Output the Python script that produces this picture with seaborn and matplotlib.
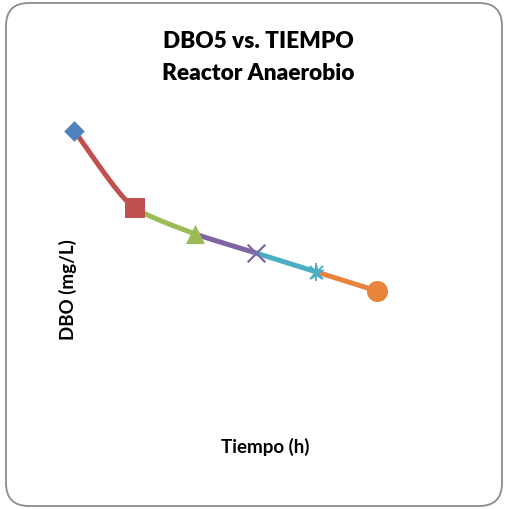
import numpy as np
import pandas as pd
import matplotlib
matplotlib.use("Agg")
import matplotlib.pyplot as plt
from matplotlib.patches import FancyBboxPatch
import seaborn as sns

# Mediciones del reactor anaerobio
tiempo = [0, 1, 2, 3, 4, 5]
dbo = [400, 298, 264, 239, 214, 189]
series = ["Serie1", "Serie2", "Serie3", "Serie4", "Serie5", "Serie6"]
colores = ["#4F81BD", "#C0504D", "#9BBB59", "#8064A2", "#4BACC6", "#E8843C"]
marcadores = ["D", "s", "^", "x", "*", "o"]
tamanos = [110, 190, 190, 160, 170, 230]

sns.set_theme(style="white")
plt.rcParams["font.family"] = ["Lato", "DejaVu Sans"]

W, H = 505, 510
fig = plt.figure(figsize=(W / 100, H / 100), dpi=100)
ax = fig.add_axes([0.0865, 0.1459, 0.72, 0.6706])
XLIM, YLIM = (-0.5, 5.5), (0, 450)

# escala aproximada en píxeles por unidad, para suavizar en espacio de pantalla
SX = 0.72 * W / (XLIM[1] - XLIM[0])
SY = 0.6706 * H / (YLIM[1] - YLIM[0])


def suavizar(xs, ys, n=40, k=0.6):
    """Tramos de Hermite con tangentes ponderadas por la longitud de las cuerdas."""
    p = np.column_stack([np.asarray(xs, float) * SX, np.asarray(ys, float) * SY])
    cuerdas = np.diff(p, axis=0)
    largos = np.linalg.norm(cuerdas, axis=1)
    dirs = cuerdas / largos[:, None]
    tang = np.zeros_like(p)
    tang[0] = dirs[0]
    tang[-1] = dirs[-1]
    for i in range(1, len(p) - 1):
        v = dirs[i - 1] * largos[i] + dirs[i] * largos[i - 1]
        tang[i] = v / np.linalg.norm(v)
    s = np.linspace(0, 1, n)[:, None]
    h00 = 2 * s**3 - 3 * s**2 + 1
    h10 = s**3 - 2 * s**2 + s
    h01 = -2 * s**3 + 3 * s**2
    h11 = s**3 - s**2
    tramos = []
    for i in range(len(p) - 1):
        L = largos[i] * k
        pts = h00 * p[i] + h10 * tang[i] * L + h01 * p[i + 1] + h11 * tang[i + 1] * L
        tramos.append(np.column_stack([pts[:, 0] / SX, pts[:, 1] / SY]))
    return tramos


tramos = suavizar(tiempo, dbo)
for i, pts in enumerate(tramos):
    df = pd.DataFrame({"x": pts[:, 0], "y": pts[:, 1]})
    sns.lineplot(data=df, x="x", y="y", ax=ax, color=colores[i + 1],
                 linewidth=3.6, sort=False, estimator=None, zorder=2)

for i in range(len(tiempo)):
    df = pd.DataFrame({"t": [tiempo[i]], "d": [dbo[i]]})
    kw = dict(color=colores[i], s=tamanos[i], marker=marcadores[i], zorder=3)
    kw.update(linewidth=1.6 if marcadores[i] == "x" else 0)
    sns.scatterplot(data=df, x="t", y="d", ax=ax, **kw)
    if marcadores[i] == "*":
        ax.scatter([tiempo[i]], [dbo[i]], marker="x", s=90, color=colores[i],
                   linewidth=1.3, zorder=3)
        ax.scatter([tiempo[i]], [dbo[i]], marker="|", s=150, color=colores[i],
                   linewidth=1.3, zorder=3)

ax.set_xlim(*XLIM)
ax.set_ylim(*YLIM)
ax.set_xlabel("")
ax.set_ylabel("")
ax.set_xticks([])
ax.set_yticks([])
for sp in ax.spines.values():
    sp.set_visible(False)
ax.patch.set_alpha(0)

# Marco redondeado del gráfico
x0, y0, x1, y1 = 6, 4, 502, 507
marco = FancyBboxPatch((x0 / W, 1 - y1 / H), (x1 - x0) / W, (y1 - y0) / H,
                       boxstyle="round,pad=0,rounding_size=0.045",
                       transform=fig.transFigure, fill=False,
                       edgecolor="#8C8C8C", linewidth=1.3, zorder=0)
fig.patches.append(marco)

fig.text(258 / W, 1 - 42 / H, "DBO5 vs. TIEMPO", ha="center", va="center",
         fontsize=16.3, fontweight="heavy", color="black")
fig.text(258 / W, 1 - 74 / H, "Reactor Anaerobio", ha="center", va="center",
         fontsize=16.3, fontweight="heavy", color="black")
fig.text(68 / W, 1 - 290 / H, "DBO (mg/L)", ha="center", va="center",
         rotation=90, fontsize=13.5, fontweight="bold", color="black")
fig.text(265 / W, 1 - 447 / H, "Tiempo (h)", ha="center", va="center",
         fontsize=13.5, fontweight="bold", color="black")

fig.savefig("out.png", dpi=100)
